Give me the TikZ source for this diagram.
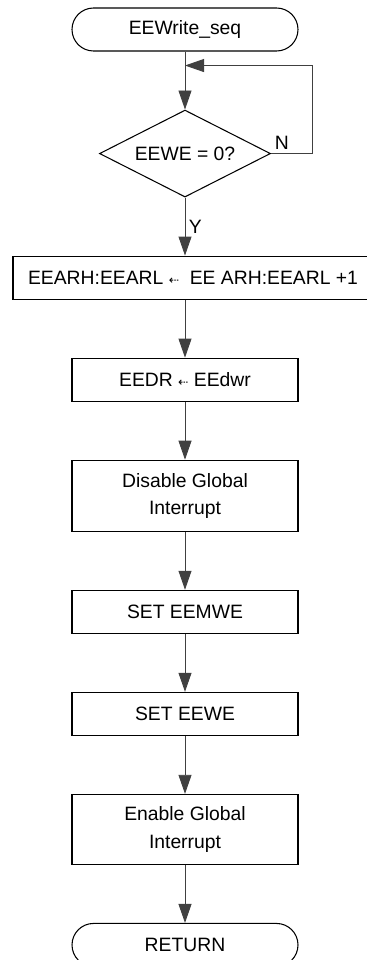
\documentclass[tikz,border=0pt]{standalone}
\usepackage{fontspec}
\setmainfont{Liberation Sans}
\newfontfamily\arrowfont{DejaVu Sans}
\usepackage{tikz}
\usetikzlibrary{shapes.geometric, arrows.meta, positioning}

\begin{document}
\begin{tikzpicture}[
    node distance=1.16cm,
    terminal/.style={rectangle, draw=black, line width=0.6pt, rounded corners=0.43cm, minimum width=4.52cm, minimum height=0.86cm, align=center, font=\fontsize{11}{15.5}\selectfont},
    process/.style={rectangle, draw=black, line width=0.6pt, minimum width=4.52cm, minimum height=0.86cm, align=center, font=\fontsize{11}{15.5}\selectfont},
    decision/.style={diamond, draw=black, line width=0.6pt, minimum width=3.42cm, minimum height=1.74cm, aspect=2, inner sep=0pt, align=center, font=\fontsize{11}{15.5}\selectfont},
    arrow/.style={-{Triangle[length=0.38cm, width=0.26cm]}, line width=0.5pt, draw=black!75},
    lbl/.style={font=\fontsize{11}{13}\selectfont, inner sep=2pt}
]
\useasboundingbox (0,0) rectangle (7.32,-19.2);

% Start and busy-wait loop
\node[terminal] (start) at (3.7,-0.59) {EEWrite\_seq};
\node[decision, below=of start] (busy) {EEWE = 0?};
\coordinate (merge) at ([yshift=-0.28cm]start.south);

% Sequence of operations
\node[process, anchor=north, minimum width=7.2cm] (addr) at ([xshift=0.16cm, yshift=-1.16cm]busy.south) {EEARH:EEARL {\arrowfont\scriptsize ⇠}\ \ EE ARH:EEARL +1};
\node[process, anchor=north] (data) at ([yshift=-1.16cm]addr.south -| busy.south) {EEDR {\arrowfont\scriptsize ⇠} EEdwr};
\node[process, below=of data, minimum height=1.42cm] (cli) {Disable Global\\Interrupt};
\node[process, below=of cli] (mwe) {SET EEMWE};
\node[process, below=of mwe] (we) {SET EEWE};
\node[process, below=of we, minimum height=1.4cm] (sei) {Enable Global\\Interrupt};
\node[terminal, below=of sei] (ret) {RETURN};

% Connectors
\draw[arrow] (start) -- (busy);
\draw[arrow] (busy.east) -- ++(0.82cm,0) |- (merge);
\node[lbl, above right] at (busy.east) {N};
\draw[arrow] (busy.south) -- (busy.south |- addr.north) node[lbl, midway, right] {Y};
\draw[arrow] (addr.south -| busy.south) -- (data);
\draw[arrow] (data) -- (cli);
\draw[arrow] (cli) -- (mwe);
\draw[arrow] (mwe) -- (we);
\draw[arrow] (we) -- (sei);
\draw[arrow] (sei) -- (ret);

\end{tikzpicture}
\end{document}
